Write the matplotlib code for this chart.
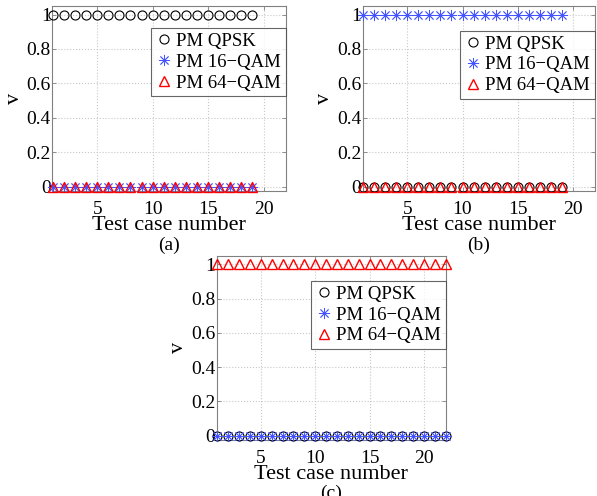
import numpy as np
import matplotlib.pyplot as plt

plt.rcParams['font.family'] = ['Liberation Serif', 'DejaVu Serif']

# test case numbers per panel
cases_ab = list(range(1, 20))
cases_c = list(range(1, 23))

# detection value v for each format, per panel
a_qpsk = [1] * 19
a_16qam = [0] * 19
a_64qam = [0] * 19

b_qpsk = [0] * 19
b_16qam = [1] * 19
b_64qam = [0] * 19

c_qpsk = [0] * 22
c_16qam = [0] * 22
c_64qam = [1] * 22

labels = ['PM QPSK', 'PM 16\u2212QAM', 'PM 64\u2212QAM']
yticks = [0, 0.2, 0.4, 0.6, 0.8, 1]
yticklabels = ['0', '0.2', '0.4', '0.6', '0.8', '1']
xticks = [5, 10, 15, 20]

fig = plt.figure(figsize=(5.97, 4.96), dpi=100)

panels = [
    ([0.0876, 0.615, 0.391, 0.373], cases_ab, a_qpsk, a_16qam, a_64qam, '(a)', 0.881),
    ([0.6075, 0.615, 0.389, 0.373], cases_ab, b_qpsk, b_16qam, b_64qam, '(b)', 0.866),
    ([0.363, 0.113, 0.3836, 0.3716], cases_c, c_qpsk, c_16qam, c_64qam, '(c)', 0.863),
]

for rect, x, q, s16, s64, tag, legtop in panels:
    ax = fig.add_axes(rect)
    ax.plot(x, q, linestyle='none', marker='o', markersize=6.5, markerfacecolor='none',
            markeredgecolor='black', markeredgewidth=0.8, label=labels[0], clip_on=False, zorder=3)
    ax.plot(x, s16, linestyle='none', marker=(8, 2, 0), markersize=8, color='#4455ff',
            markeredgewidth=0.6, label=labels[1], clip_on=False, zorder=4)
    ax.plot(x, s64, linestyle='none', marker='^', markersize=6.5, markerfacecolor='none',
            markeredgecolor='red', markeredgewidth=1.0, label=labels[2], clip_on=False, zorder=5)
    ax.set_xlim(0.95, 22)
    ax.set_ylim(-0.025, 1.05)
    ax.set_xticks(xticks)
    ax.set_xticklabels([str(t) for t in xticks])
    ax.set_yticks(yticks)
    ax.set_yticklabels(yticklabels)
    ax.tick_params(direction='in', top=True, right=True, length=3, width=0.6,
                   color='#808080', labelsize=14, pad=1)
    ax.tick_params(axis='x', pad=7)
    ax.grid(True, linestyle=':', color='#c8c8c8', linewidth=0.8)
    for sp in ax.spines.values():
        sp.set_color('#808080')
        sp.set_linewidth(0.8)
    ax.set_xlabel('Test case number', fontsize=16, labelpad=-1)
    ax.set_ylabel('v', fontsize=16, labelpad=2)
    leg = ax.legend(loc='upper right', bbox_to_anchor=(1.0, legtop), fontsize=13.5,
                    frameon=True, fancybox=False, borderaxespad=0, handletextpad=0.2,
                    handlelength=0.9, borderpad=0.25, labelspacing=0.2)
    leg.get_frame().set_edgecolor('#404040')
    leg.get_frame().set_linewidth(0.8)
    ax.text(0.5, -0.245, tag, transform=ax.transAxes, ha='center', va='top', fontsize=14)

fig.savefig('out.png', dpi=100)
